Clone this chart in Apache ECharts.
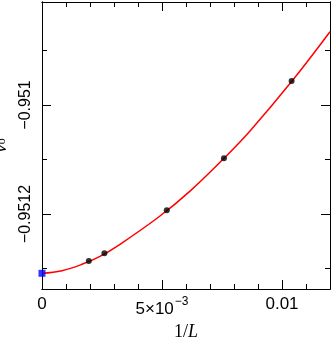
<!DOCTYPE html>
<html>
<head>
<meta charset="utf-8">
<script src="https://cdn.jsdelivr.net/npm/echarts@6/dist/echarts.min.js"></script>
<style>
html, body { margin: 0; padding: 0; background: #fff; }
#main { width: 332px; height: 338px; }
</style>
</head>
<body>
<div id="main"></div>
<script>
// 数据点 (1/L, v_o)
var pointX = [0.00195, 0.0026, 0.0052, 0.00758, 0.0104];
var pointY = [-0.9512862, -0.9512721, -0.9511932, -0.9510978, -0.9509560];
// 外推值 1/L = 0
var limitX = [0];
var limitY = [-0.9513088];
// 拟合曲线
var curveX = [0, 0.000833, 0.001667, 0.002417, 0.00325, 0.004917, 0.006167, 0.007583, 0.008667, 0.010417, 0.012];
var curveY = [-0.9513088, -0.9513040, -0.9512923, -0.9512778, -0.9512556, -0.9512037, -0.9511580, -0.9510978, -0.9510477, -0.9509560, -0.9508655];
// 刻度
var xMajor = [0, 0.005, 0.01];
var xMinor = [0.001, 0.002, 0.003, 0.004, 0.006, 0.007, 0.008, 0.009, 0.011];
var yMajor = [-0.951, -0.9512];
var yMinor = [-0.9509, -0.9511, -0.9513];

var X_MIN = 0, X_MAX = 0.012;
var Y_MIN = -0.9513376, Y_MAX = -0.9508110;

function pairs(xs, ys) {
	var out = [];
	for (var i = 0; i < xs.length; i++) {
		out.push([xs[i], ys[i]]);
	}
	return out;
}

var black = { color: '#000', width: 1 };

// 一根轴: 只画刻度, 可选标签
function axis(pos, min, max, ticks, len, extra) {
	var a = {
		type: 'value',
		position: pos,
		min: min,
		max: max,
		scale: true,
		axisLine: { show: true, onZero: false, lineStyle: black },
		splitLine: { show: false },
		axisTick: { show: true, inside: true, length: len, customValues: ticks, lineStyle: black },
		axisLabel: { show: false }
	};
	if (extra) {
		for (var k in extra) a[k] = extra[k];
	}
	return a;
}

var xLabel = {
	show: true,
	customValues: xMajor,
	margin: 7,
	color: '#000',
	fontFamily: 'Liberation Sans',
	fontSize: 17,
	formatter: function(v) {
		if (v === 0) return '0';
		if (Math.abs(v - 0.005) < 1e-9) return '{a|5×10}{b|−3}';
		return '0.01';
	},
	rich: {
		a: { fontFamily: 'Liberation Sans', fontSize: 17, color: '#000', lineHeight: 22, verticalAlign: 'bottom' },
		b: { fontFamily: 'Liberation Sans', fontSize: 12, color: '#000', lineHeight: 22, verticalAlign: 'top', padding: [0, 0, 0, 1] }
	}
};

var yLabel = {
	show: true,
	customValues: yMajor,
	rotate: 90,
	margin: 8,
	color: '#000',
	fontFamily: 'Liberation Sans',
	fontSize: 16,
	formatter: function(v) {
		return String(v).replace('-', '\u2212');
	}
};

var option = {
	animation: false,
	backgroundColor: '#fff',
	grid: { left: 42, right: 2, top: 2, bottom: 49, outerBoundsMode: 'none' },
	xAxis: [
		axis('bottom', X_MIN, X_MAX, xMajor, 9, {
			axisLabel: xLabel,
			name: '{n|1/}{i|L}',
			nameLocation: 'middle',
			nameGap: 26,
			nameTextStyle: {
				rich: {
					n: { fontFamily: 'Liberation Serif', fontSize: 18, color: '#000' },
					i: { fontFamily: 'Liberation Serif', fontSize: 18, fontStyle: 'italic', color: '#000' }
				}
			}
		}),
		axis('bottom', X_MIN, X_MAX, xMinor, 5),
		axis('top', X_MIN, X_MAX, xMajor, 9),
		axis('top', X_MIN, X_MAX, xMinor, 5)
	],
	yAxis: [
		axis('left', Y_MIN, Y_MAX, yMajor, 9, {
			axisLabel: yLabel,
			name: '{v|v}{o|o}',
			nameLocation: 'middle',
			nameGap: 28,
			nameTextStyle: {
				rich: {
					v: { fontFamily: 'Liberation Serif', fontSize: 19, fontStyle: 'italic', color: '#000', lineHeight: 14, verticalAlign: 'middle' },
					o: { fontFamily: 'Liberation Serif', fontSize: 12, color: '#000', lineHeight: 14, verticalAlign: 'bottom' }
				}
			}
		}),
		axis('left', Y_MIN, Y_MAX, yMinor, 5),
		axis('right', Y_MIN, Y_MAX, yMajor, 9),
		axis('right', Y_MIN, Y_MAX, yMinor, 5)
	],
	series: [
		{
			type: 'line',
			data: pairs(curveX, curveY),
			smooth: 0.4,
			showSymbol: false,
			silent: true,
			lineStyle: { color: '#ff0000', width: 1.5 },
			z: 2
		},
		{
			type: 'scatter',
			data: pairs(pointX, pointY),
			symbol: 'circle',
			symbolSize: 6,
			clip: false,
			itemStyle: { color: '#000' },
			z: 3
		},
		{
			type: 'scatter',
			data: pairs(limitX, limitY),
			symbol: 'rect',
			symbolSize: 7,
			clip: false,
			itemStyle: { color: '#0000ff' },
			z: 4
		}
	]
};

var myChart = echarts.init(document.getElementById('main'));
myChart.setOption(option);
</script>
</body>
</html>
